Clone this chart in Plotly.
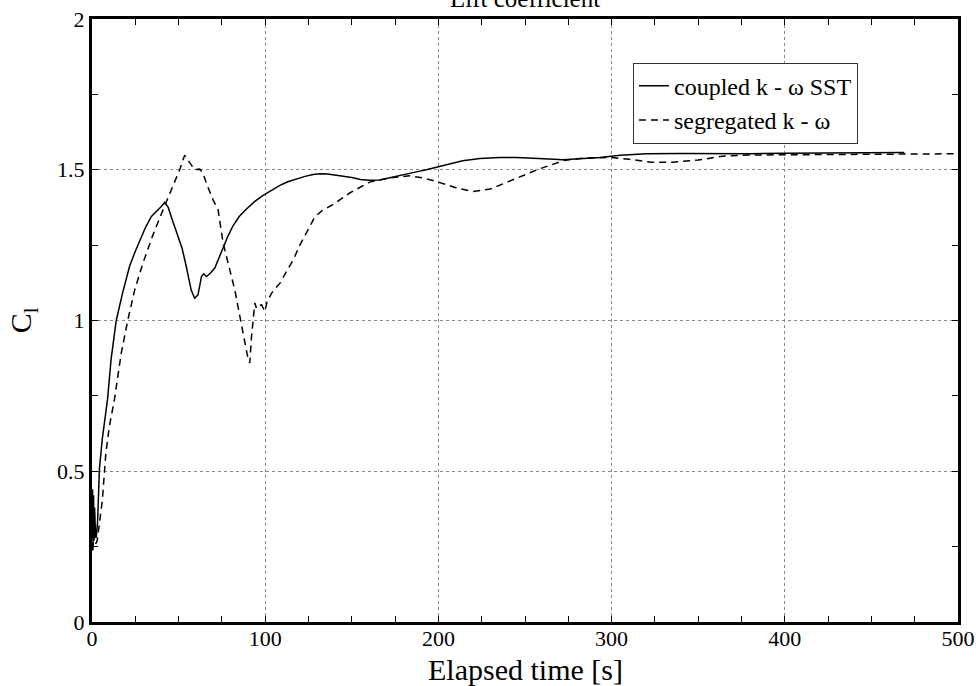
import plotly.graph_objects as go

# Coupled k-omega SST (solid)
coupled_t = [0, 0.3, 0.6, 0.9, 1.2, 1.5, 1.9, 2.4, 3.2, 4.3, 6, 8, 9, 11, 14, 17.6, 21.7, 25, 28.5, 31,
             34.3, 37, 40, 42, 44, 46, 49.6, 52, 54.4, 57.3, 59.3, 61.2, 63.2, 64.5, 66, 68, 70.9, 73,
             75.7, 78.5, 81.5, 85, 89.2, 94, 98.8, 103, 108.5, 113, 118, 123, 127.6, 131.6, 136, 143,
             150, 155, 160, 166, 172, 180, 187.3, 193, 199, 206, 214, 224, 235.6, 245, 255, 264, 272,
             282, 293.4, 305, 320, 340, 360, 380, 400, 420, 440, 469]
coupled_c = [0.30, 0.44, 0.25, 0.42, 0.27, 0.38, 0.31, 0.28, 0.33, 0.51, 0.61, 0.70, 0.74, 0.87, 1.00,
             1.09, 1.18, 1.23, 1.28, 1.31, 1.345, 1.36, 1.378, 1.392, 1.375, 1.34, 1.284, 1.24, 1.18,
             1.10, 1.074, 1.085, 1.146, 1.155, 1.146, 1.155, 1.174, 1.205, 1.24, 1.28, 1.315, 1.345,
             1.37, 1.395, 1.415, 1.43, 1.448, 1.46, 1.47, 1.478, 1.484, 1.487, 1.486, 1.481, 1.474,
             1.468, 1.465, 1.466, 1.473, 1.482, 1.493, 1.50, 1.509, 1.52, 1.53, 1.537, 1.541, 1.541,
             1.539, 1.536, 1.533, 1.536, 1.541, 1.548, 1.553, 1.554, 1.553, 1.553, 1.555, 1.556,
             1.556, 1.557]

# Segregated k-omega (dashed)
segregated_t = [0, 0.5, 1, 1.5, 2.2, 3, 4, 6, 8, 10, 13, 16.9, 20.7, 24.6, 29.4, 35.2, 41, 45.8, 50.6,
                53.5, 56.4, 59.3, 62.2, 64, 66, 69.9, 72.8, 75.7, 78.6, 82.5, 85.4, 88.3, 90.2, 91.1,
                92.1, 94, 95, 96, 97.9, 99.8, 101, 103.7, 108.5, 112, 116.2, 120, 123.9, 128.8, 133,
                139, 148.8, 160.3, 172, 183.5, 191, 199, 210.7, 220, 230, 243.5, 257, 272.5, 284,
                299.5, 310, 322.7, 335, 350, 364, 380, 400, 430, 460, 500]
segregated_c = [0.30, 0.23, 0.33, 0.29, 0.26, 0.27, 0.31, 0.405, 0.56, 0.648, 0.74, 0.892, 1.002, 1.10,
                1.19, 1.284, 1.367, 1.434, 1.50, 1.548, 1.522, 1.50, 1.502, 1.49, 1.456, 1.40, 1.367,
                1.257, 1.19, 1.10, 1.013, 0.919, 0.870, 0.859, 0.947, 1.058, 1.04, 1.047, 1.052, 1.03,
                1.06, 1.091, 1.124, 1.16, 1.201, 1.25, 1.29, 1.345, 1.365, 1.384, 1.423, 1.459, 1.473,
                1.480, 1.473, 1.461, 1.439, 1.428, 1.436, 1.467, 1.500, 1.531, 1.539, 1.541, 1.535,
                1.525, 1.525, 1.532, 1.545, 1.549, 1.550, 1.551, 1.552, 1.553]

x_ticks = [0, 100, 200, 300, 400, 500]
x_tick_labels = ["0", "100", "200", "300", "400", "500"]
y_ticks = [0, 0.5, 1, 1.5, 2]
y_tick_labels = ["0", "0.5", "1", "1.5", "2"]

FONT = "Liberation Serif"

fig = go.Figure()
fig.add_trace(go.Scatter(x=coupled_t, y=coupled_c, mode="lines", name="coupled k - \u03c9 SST",
                         line=dict(color="black", width=1.5)))
fig.add_trace(go.Scatter(x=segregated_t, y=segregated_c, mode="lines", name="segregated k - \u03c9",
                         line=dict(color="black", width=1.5, dash="7px,5px")))

axis_common = dict(
    showline=True, linecolor="black", linewidth=3, mirror="ticks",
    ticks="inside", ticklen=6, tickcolor="black", tickwidth=1,
    showgrid=True, gridcolor="#888888", griddash="dot", gridwidth=1,
    zeroline=False, tickfont=dict(family=FONT, size=22, color="black"),
    automargin=False,
)

fig.update_xaxes(range=[0, 500], tickvals=x_ticks, ticktext=x_tick_labels,
                 minor=dict(dtick=25, ticks="inside", ticklen=6, tickcolor="black", showgrid=False),
                 ticklabelstandoff=-5,
                 **axis_common)
fig.update_yaxes(range=[0, 2], tickvals=y_ticks, ticktext=y_tick_labels,
                 minor=dict(dtick=0.25, ticks="inside", ticklen=6, tickcolor="black", showgrid=False),
                 **axis_common)

# chart title (mostly cut off at the top edge, as in the reference)
fig.add_annotation(text="Lift coefficient", xref="paper", yref="paper", x=0.5, y=1.009,
                   xanchor="center", yanchor="bottom", showarrow=False,
                   font=dict(family=FONT, size=25, color="black"))
# axis titles
fig.add_annotation(text="Elapsed time [s]", xref="paper", yref="paper", x=0.5, y=-0.078,
                   xanchor="center", yanchor="middle", showarrow=False,
                   font=dict(family=FONT, size=30, color="black"))
fig.add_annotation(text="C<sub>l</sub>", xref="paper", yref="paper", x=-0.08, y=0.5,
                   xanchor="center", yanchor="middle", showarrow=False, textangle=-90,
                   font=dict(family=FONT, size=30, color="black"))

fig.update_layout(
    width=976, height=686,
    margin=dict(l=92, r=18, t=19, b=64, autoexpand=False),
    paper_bgcolor="white", plot_bgcolor="white",
    font=dict(family=FONT, color="black"),
    legend=dict(x=0.8845, y=0.9275, xanchor="right", yanchor="top",
                bgcolor="white", bordercolor="#333333", borderwidth=1,
                font=dict(family=FONT, size=24, color="black"), tracegroupgap=0),
    showlegend=True,
)

fig.write_html("out.html", config={"displayModeBar": False},
               post_script="document.body.style.margin='0';document.body.style.overflow='hidden';")
